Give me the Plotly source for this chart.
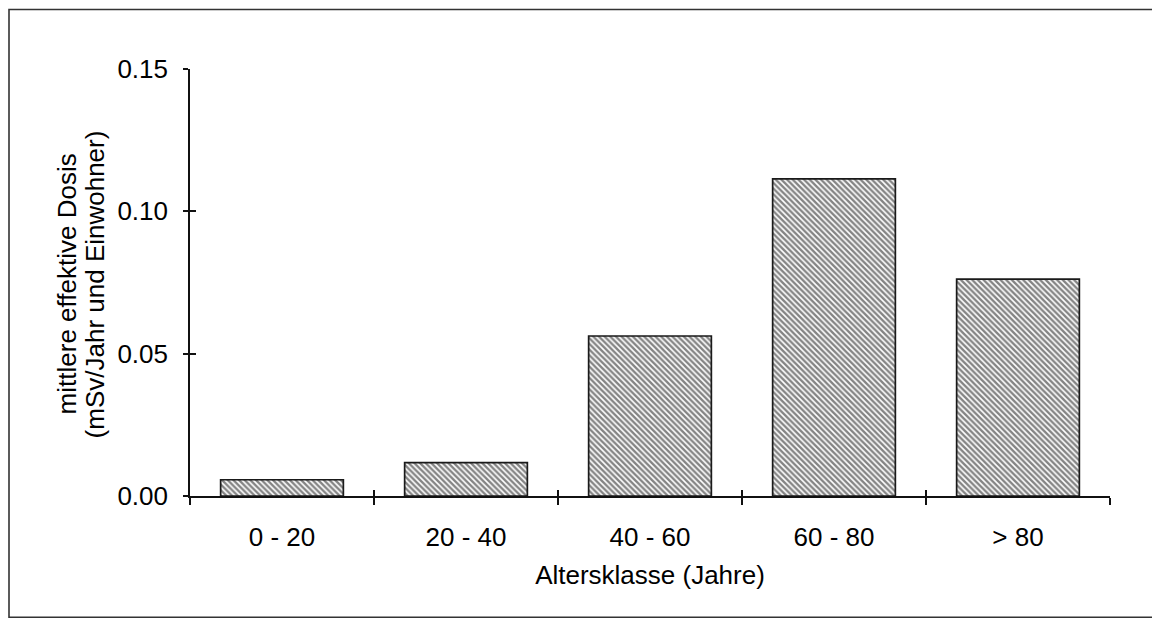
import plotly.graph_objects as go

categories = ["0 - 20", "20 - 40", "40 - 60", "60 - 80", "> 80"]
dose = [0.0057, 0.0117, 0.0562, 0.1114, 0.0762]
y_ticks = [0.0, 0.05, 0.10, 0.15]
y_tick_labels = ["0.00", "0.05", "0.10", "0.15"]
y_title_lines = ["mittlere effektive Dosis", "(mSv/Jahr und Einwohner)"]
x_title = "Altersklasse (Jahre)"

OFF = 8  # page body margin of the browser
W, H = 1160 - OFF, 619 - OFF
L, R, T, B = 190 - OFF, 50, 68.5 - OFF, 123.3
pw, ph = W - L - R, H - T - B
PX0, PY0 = 190, 495.7  # page position of plot origin


def px(xp):  # page x -> paper x
    return (xp - PX0) / pw


def py(yp):  # page y -> paper y
    return (PY0 - yp) / ph


FONT = "Liberation Sans, Arial, sans-serif"
INK = "#111111"
FS = 26

fig = go.Figure()
fig.add_trace(go.Bar(
    x=categories, y=dose, width=0.667,
    marker=dict(color="white",
                line=dict(color="#1a1a1a", width=1.7),
                pattern=dict(shape="\\", fgcolor="#0a0a0a", bgcolor="white",
                             size=4.0, solidity=0.6)),
    showlegend=False, hoverinfo="skip"))
# invisible helper trace for the inside-tick overlay axes
fig.add_trace(go.Scatter(x=categories, y=dose, xaxis="x2", yaxis="y2",
                         mode="markers", marker=dict(opacity=0),
                         showlegend=False, hoverinfo="skip"))

axis_common = dict(showgrid=False, zeroline=False, linecolor=INK, linewidth=1.6,
                   tickcolor=INK, tickwidth=1.6)

fig.update_layout(
    width=W, height=H,
    margin=dict(l=L, r=R, t=T, b=B, autoexpand=False),
    paper_bgcolor="white", plot_bgcolor="white",
    font=dict(family=FONT, size=FS, color="#000000"),
    bargap=0.333,
    xaxis=dict(**axis_common, type="category", showline=True, ticks="outside",
               ticklen=7, tickson="boundaries", range=[-0.5, 4.5],
               tickfont=dict(size=FS), ticklabelstandoff=17,
               title=dict(text=x_title, font=dict(size=FS), standoff=15)),
    yaxis=dict(**axis_common, showline=True, ticks="outside", ticklen=5,
               range=[0, 0.15], tickvals=y_ticks, ticktext=y_tick_labels,
               tickfont=dict(size=FS), ticklabelstandoff=10),
    xaxis2=dict(overlaying="x", type="category", matches="x", showline=False,
                showgrid=False, zeroline=False, ticks="inside", ticklen=6,
                tickcolor=INK, tickwidth=1.6, tickson="boundaries",
                showticklabels=False, range=[-0.5, 4.5], anchor="y2"),
    yaxis2=dict(overlaying="y", showline=False, showgrid=False, zeroline=False,
                ticks="inside", ticklen=6, tickcolor=INK, tickwidth=1.6,
                tickvals=y_ticks, showticklabels=False, range=[0, 0.15], anchor="x2"),
)

# two-line y-axis title as rotated annotations
for text, xp in zip(y_title_lines, [67, 95]):
    fig.add_annotation(text=text, xref="paper", yref="paper",
                       x=px(xp), y=py(284), xanchor="center", yanchor="middle",
                       textangle=-90, showarrow=False,
                       font=dict(family=FONT, size=FS, color="#000000"))

# outer frame around the whole figure
fig.add_shape(type="rect", xref="paper", yref="paper",
              x0=px(9), x1=px(1157), y0=py(617), y1=py(9),
              line=dict(color="#333333", width=1.6), fillcolor="rgba(0,0,0,0)",
              layer="below")

fig.write_html("out.html")
